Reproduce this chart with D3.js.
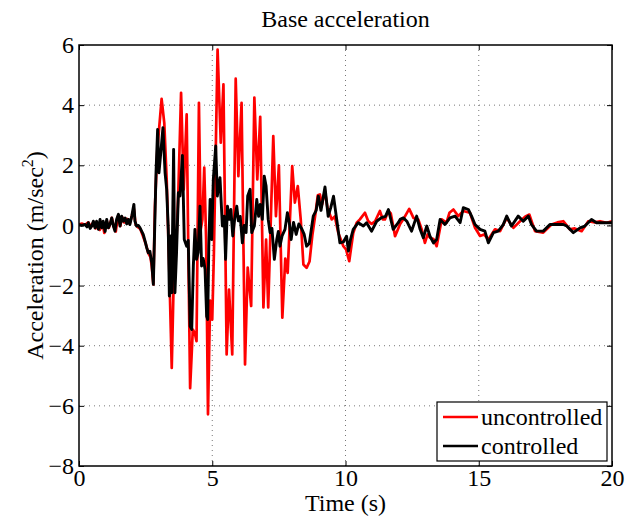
<!DOCTYPE html>
<html>
<head>
<meta charset="utf-8">
<script src="https://cdn.jsdelivr.net/npm/d3@7"></script>
<style>
body { margin: 0; background: #fff; }
svg { display: block; font-family: "Liberation Serif", "Times New Roman", serif; }
</style>
</head>
<body>
<div id="chart"></div>
<script>
// uncontrolled (red) response
const uncTime = [0.00,0.12,0.23,0.35,0.45,0.54,0.62,0.70,0.78,0.87,0.95,1.04,1.12,1.23,1.31,1.38,1.46,1.55,1.62,1.70,1.80,1.90,1.98,2.06,2.12,2.20,2.30,2.40,2.50,2.60,2.68,2.73,2.79,2.85,2.94,3.10,3.20,3.29,3.39,3.48,3.56,3.64,3.73,3.83,3.93,4.04,4.10,4.17,4.27,4.35,4.41,4.50,4.57,4.63,4.70,4.77,4.84,4.92,5.00,5.06,5.20,5.32,5.42,5.54,5.63,5.75,5.88,5.98,6.10,6.23,6.33,6.46,6.58,6.69,6.80,6.92,7.02,7.10,7.29,7.39,7.50,7.63,7.74,7.83,8.00,8.10,8.21,8.32,8.42,8.54,8.65,8.76,8.86,8.96,9.04,9.12,9.23,9.32,9.48,9.60,9.73,9.92,10.02,10.14,10.29,10.42,10.54,10.73,10.85,10.98,11.11,11.29,11.40,11.48,11.61,11.70,11.86,12.05,12.20,12.39,12.55,12.73,12.86,12.98,13.08,13.17,13.30,13.42,13.61,13.79,13.90,14.05,14.23,14.42,14.67,14.86,15.05,15.20,15.36,15.61,15.80,16.05,16.30,16.55,16.75,16.90,17.11,17.42,17.73,17.95,18.17,18.42,18.60,18.86,19.11,19.35,19.55,19.80,20.00];
const uncAccel = [0.03,0.06,0.02,0.10,-0.05,0.12,-0.10,0.05,-0.15,0.12,-0.25,0.14,-0.08,0.25,-0.05,-0.20,0.30,-0.02,0.28,0.10,0.22,0.05,0.30,0.55,0.05,-0.05,-0.12,-0.35,-0.60,-0.92,-1.05,-1.35,-1.96,0.64,2.53,4.21,3.41,1.53,-1.57,-4.74,-1.57,-0.91,1.20,4.41,1.20,3.69,-0.69,-5.41,-3.46,-3.60,-3.85,4.08,-0.13,0.20,1.92,-0.46,-6.28,-2.50,-3.13,-1.00,5.85,2.75,4.69,-4.29,-2.13,-4.29,4.88,1.64,4.08,-4.62,-1.40,-2.68,4.25,1.53,3.61,-2.73,-0.47,-2.73,2.97,0.31,2.00,-3.07,-1.10,-1.58,1.97,0.76,1.31,0.20,-1.30,-1.41,-1.20,-0.30,0.31,1.00,1.03,0.70,1.15,0.60,0.20,0.30,-0.25,-0.69,-0.80,-1.19,-0.25,0.09,0.20,0.42,0.15,0.05,0.14,0.48,0.20,0.20,0.48,0.40,-0.36,0.05,0.25,0.55,0.25,0.20,-0.13,-0.58,-0.30,-0.41,-0.45,-0.69,0.20,0.09,0.42,0.53,0.31,0.48,0.42,-0.08,-0.35,-0.30,-0.47,-0.13,-0.19,0.25,-0.08,0.14,0.30,0.36,-0.19,-0.24,0.03,0.10,0.14,-0.13,-0.10,-0.19,0.14,0.10,0.14,0.09,0.14];

// controlled (black) response
const ctrlTime = [0.00,0.10,0.23,0.30,0.35,0.42,0.48,0.54,0.60,0.66,0.73,0.79,0.85,0.91,0.98,1.04,1.10,1.17,1.23,1.29,1.35,1.41,1.48,1.54,1.60,1.66,1.73,1.79,1.85,1.91,1.98,2.06,2.10,2.16,2.23,2.29,2.35,2.41,2.48,2.54,2.60,2.66,2.73,2.79,2.89,2.95,3.00,3.08,3.15,3.23,3.29,3.35,3.39,3.44,3.48,3.55,3.60,3.66,3.73,3.79,3.88,3.95,4.04,4.10,4.17,4.23,4.29,4.35,4.41,4.47,4.54,4.60,4.66,4.73,4.79,4.83,4.87,4.92,4.98,5.04,5.13,5.19,5.29,5.38,5.45,5.50,5.57,5.64,5.70,5.77,5.84,5.92,5.98,6.05,6.13,6.20,6.27,6.33,6.42,6.48,6.58,6.67,6.74,6.80,6.88,6.95,7.02,7.10,7.17,7.24,7.33,7.42,7.48,7.54,7.62,7.73,7.82,7.89,7.96,8.05,8.15,8.25,8.35,8.45,8.54,8.64,8.79,8.90,8.98,9.08,9.23,9.35,9.45,9.55,9.67,9.79,9.92,10.04,10.11,10.18,10.29,10.48,10.67,10.79,10.98,11.17,11.35,11.50,11.61,11.79,11.98,12.05,12.17,12.30,12.48,12.67,12.80,12.92,13.05,13.17,13.30,13.42,13.55,13.73,13.92,14.11,14.30,14.42,14.61,14.73,14.86,15.05,15.23,15.36,15.55,15.73,15.92,16.05,16.23,16.48,16.67,16.86,16.98,17.17,17.42,17.67,17.92,18.17,18.30,18.55,18.80,18.98,19.23,19.42,19.67,20.00];
const ctrlAccel = [0.03,0.00,0.03,-0.05,0.09,-0.10,-0.02,0.14,-0.08,0.14,-0.13,0.20,-0.08,0.14,-0.20,0.20,-0.08,0.05,0.25,-0.02,-0.19,0.20,0.37,-0.02,0.31,0.14,0.25,0.05,0.20,0.03,0.31,0.70,0.14,-0.02,0.00,-0.08,-0.19,-0.30,-0.52,-0.74,-0.91,-0.86,-1.24,-1.96,1.75,3.19,1.75,2.53,3.25,1.75,1.20,-0.13,-2.35,-0.35,-2.24,2.53,-2.24,-0.91,1.09,0.98,2.33,-0.47,-0.69,-0.50,-3.35,-3.46,-1.35,-0.13,-1.13,-0.90,0.64,-1.35,-1.10,-1.46,-3.02,-3.13,-0.69,0.86,-0.47,1.53,2.64,0.98,1.59,-0.02,0.31,-1.13,0.64,0.20,0.53,-0.35,0.20,0.64,0.15,0.30,-0.58,0.00,-0.24,0.98,1.20,-0.24,-0.02,0.86,0.30,0.70,0.20,1.64,1.31,0.20,-0.24,-0.10,-1.13,-0.47,-0.20,-0.69,-0.35,-0.13,0.42,0.10,-0.47,0.10,-0.30,0.05,-0.10,-0.30,-0.69,-0.60,0.31,0.50,0.97,0.50,1.28,0.30,0.60,0.97,0.20,-0.58,-0.55,-0.36,-0.85,-0.50,-0.13,0.09,-0.02,0.09,-0.19,0.14,0.26,0.30,0.53,-0.13,0.09,0.20,0.25,0.14,-0.19,0.31,-0.13,-0.41,-0.02,-0.36,-0.58,-0.47,0.20,0.03,0.25,0.31,0.09,0.59,0.53,0.31,0.03,-0.13,-0.19,-0.58,-0.24,-0.19,0.03,0.31,-0.02,0.31,0.14,0.31,0.03,-0.19,-0.19,0.03,0.03,0.03,-0.02,-0.24,-0.08,-0.02,0.20,0.09,0.09,0.09];

const xTicks = [0, 5, 10, 15, 20];
const yTicks = [-8, -6, -4, -2, 0, 2, 4, 6];
const seriesNames = ['uncontrolled', 'controlled'];
const seriesColors = ['#ff0000', '#000000'];

draw();

function draw() {
    const width = 640;
    const height = 521;
    const margin = {top: 45, right: 28, bottom: 55, left: 79};
    const fs = 24;
    const font = '"Liberation Serif", "Times New Roman", serif';

    const svg = d3.select('#chart')
        .append('svg')
            .attr('width', width)
            .attr('height', height);

    const x = d3.scaleLinear()
        .domain([0, 20])
        .range([margin.left, width - margin.right]);
    const y = d3.scaleLinear()
        .domain([-8, 6])
        .range([height - margin.bottom, margin.top]);

    // grid
    svg.append('g')
        .selectAll('line')
        .data(xTicks.slice(1, -1))
        .join('line')
            .attr('x1', d => x(d)).attr('x2', d => x(d))
            .attr('y1', y(-8)).attr('y2', y(6))
            .attr('stroke', '#777')
            .attr('stroke-dasharray', '1,4');
    svg.append('g')
        .selectAll('line')
        .data(yTicks.slice(1, -1))
        .join('line')
            .attr('y1', d => y(d)).attr('y2', d => y(d))
            .attr('x1', x(0)).attr('x2', x(20))
            .attr('stroke', '#777')
            .attr('stroke-dasharray', '1,4');

    svg.append('clipPath').attr('id', 'clip')
        .append('rect')
            .attr('x', x(0)).attr('y', y(6))
            .attr('width', x(20) - x(0)).attr('height', y(-8) - y(6));

    const line = d3.line()
        .x(d => x(d[0]))
        .y(d => y(d[1]));

    svg.append('path')
        .datum(uncTime.map((t, i) => [t, uncAccel[i]]))
            .attr('clip-path', 'url(#clip)')
            .attr('fill', 'none')
            .attr('stroke', seriesColors[0])
            .attr('stroke-width', 2.7)
            .attr('stroke-linejoin', 'round')
            .attr('d', line);
    svg.append('path')
        .datum(ctrlTime.map((t, i) => [t, ctrlAccel[i]]))
            .attr('clip-path', 'url(#clip)')
            .attr('fill', 'none')
            .attr('stroke', seriesColors[1])
            .attr('stroke-width', 2.9)
            .attr('stroke-linejoin', 'round')
            .attr('d', line);

    //
    // AXES
    //
    const styleText = g => g.selectAll('.tick text')
        .attr('fill', '#000')
        .style('font-family', font)
        .style('font-size', fs + 'px');

    const xx = g => g
        .attr('transform', `translate(0,${y(-8)})`)
        .call(d3.axisBottom(x).tickValues(xTicks).tickSizeInner(-5).tickSizeOuter(0).tickPadding(3))
        .call(g => g.select('.domain').remove())
        .call(styleText);
    const xt = g => g
        .attr('transform', `translate(0,${y(6)})`)
        .call(d3.axisTop(x).tickValues(xTicks).tickSizeInner(-5).tickSizeOuter(0).tickFormat(''))
        .call(g => g.select('.domain').remove());
    const yl = g => g
        .attr('transform', `translate(${x(0)},0)`)
        .call(d3.axisLeft(y).tickValues(yTicks).tickSizeInner(-5).tickSizeOuter(0).tickPadding(5))
        .call(g => g.select('.domain').remove())
        .call(styleText);
    const yr = g => g
        .attr('transform', `translate(${x(20)},0)`)
        .call(d3.axisRight(y).tickValues(yTicks).tickSizeInner(-5).tickSizeOuter(0).tickFormat(''))
        .call(g => g.select('.domain').remove());

    svg.append('g').call(xx);
    svg.append('g').call(xt);
    svg.append('g').call(yl);
    svg.append('g').call(yr);

    svg.append('rect')
        .attr('x', x(0)).attr('y', y(6))
        .attr('width', x(20) - x(0)).attr('height', y(-8) - y(6))
        .attr('fill', 'none')
        .attr('stroke', '#000')
        .attr('stroke-width', 1.5);

    // titles
    svg.append('text')
        .attr('x', (x(0) + x(20)) / 2)
        .attr('y', 27)
        .attr('text-anchor', 'middle')
        .style('font-size', fs + 'px')
        .text('Base acceleration');
    svg.append('text')
        .attr('x', (x(0) + x(20)) / 2)
        .attr('y', 511)
        .attr('text-anchor', 'middle')
        .style('font-size', fs + 'px')
        .text('Time (s)');
    const yLab = svg.append('text')
        .attr('transform', `translate(43,${(y(-8) + y(6)) / 2}) rotate(-90)`)
        .attr('text-anchor', 'middle')
        .style('font-size', fs + 'px');
    yLab.append('tspan').text('Acceleration (m/sec');
    yLab.append('tspan').attr('dy', -10).style('font-size', '16px').text('2');
    yLab.append('tspan').attr('dy', 10).text(')');

    // legend
    const lg = svg.append('g').attr('transform', 'translate(437,402)');
    lg.append('rect')
        .attr('width', 170).attr('height', 59)
        .attr('fill', '#fff')
        .attr('stroke', '#000')
        .attr('stroke-width', 1.2);
    seriesNames.forEach((name, i) => {
        lg.append('line')
            .attr('x1', 6).attr('x2', 41)
            .attr('y1', 15 + i * 29).attr('y2', 15 + i * 29)
            .attr('stroke', seriesColors[i])
            .attr('stroke-width', 2.5);
        lg.append('text')
            .attr('x', 44).attr('y', 23 + i * 29)
            .style('font-size', fs + 'px')
            .text(name);
    });
}
</script>
</body>
</html>
